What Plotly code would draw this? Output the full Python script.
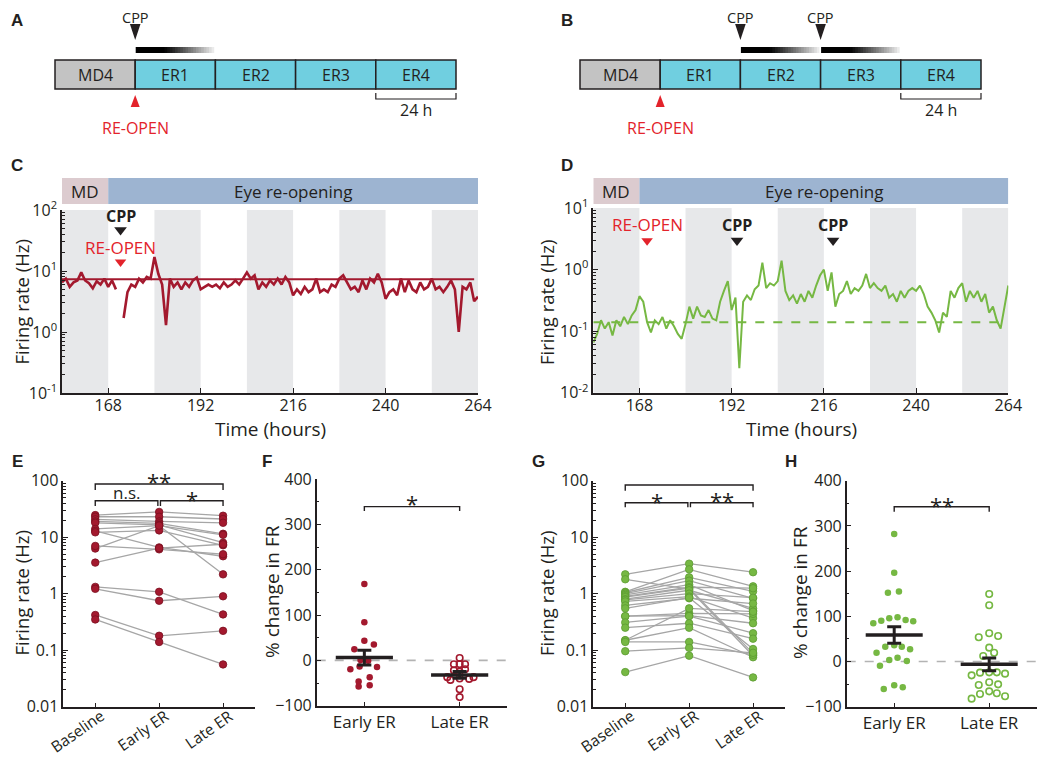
import plotly.graph_objects as go

# The page body has an 8px margin, so the figure is sized to fit inside it and
# all positions below are given in page pixels.
PAGE_W, PAGE_H, BODY = 1050, 766, 8
W, H = PAGE_W - 2 * BODY, PAGE_H - 2 * BODY
def fx(p): return (p - BODY) / W
def fy(p): return 1 - (p - BODY) / H

FONT = "Open Sans, DejaVu Sans, sans-serif"
LABEL_FONT = "Liberation Sans, Arial, sans-serif"
INK = "#231f20"
RED = "#a3192e"
RED_EDGE = "#7a0f1f"
GREEN = "#76b843"
GREEN_EDGE = "#5c9a31"
BRIGHT_RED = "#e3232b"
GREY_LINE = "#a6a6a6"

# ---------------- data ----------------
# schematics (A, B)
SEG_LABELS = ["MD4", "ER1", "ER2", "ER3", "ER4"]
SEG_START = [144, 168, 192, 216, 240]
SEG_FILL = ["#c3c3c3", "#70cfe0", "#70cfe0", "#70cfe0", "#70cfe0"]
SEG_HOURS = 24
REOPEN_T = 168
CPP_A = [168]
CPP_B = [192, 216]
CPP_EFFECT_HOURS = 23.5

# time courses (C, D)
DARK_BANDS = [(156, 168), (180, 192), (204, 216), (228, 240), (252, 264)]
HEADER_LABELS = ["MD", "Eye re-opening"]
HEADER_SPANS = [(156, 168), (168, 264)]
HEADER_FILL = ["#dccbcf", "#9db4d1"]
TIME_TICKS = [168, 192, 216, 240, 264]
T_START = 156

FR_C = [6.5, 7.5, 5.5, 6.5, 7.0, 9.5, 7.0, 6.3, 5.2, 6.8, 6.0, 7.5, 5.5, 7.0, 5.0, None,
        1.7, 4.5, 6.0, 5.5, 7.5, 6.5, 8.0, 7.5, 17, 9.0, 6.0, 1.3, 7.5, 5.5, 6.5, 5.0,
        6.5, 5.5, 7.0, 7.8, 5.0, 5.5, 6.0, 5.5, 6.0, 5.2, 6.5, 5.5, 6.0, 7.0, 6.0, 7.5,
        9.5, 7.5, 8.5, 5.0, 6.5, 5.5, 7.0, 6.0, 7.5, 6.0, 8.0, 6.5, 4.0, 5.0, 4.2, 5.5,
        4.5, 5.0, 7.5, 4.5, 5.0, 4.5, 6.0, 5.5, 7.5, 8.5, 6.5, 5.0, 5.5, 4.5, 7.0, 5.0,
        7.5, 6.5, 9.0, 6.5, 3.5, 4.5, 5.0, 4.0, 7.5, 4.5, 7.0, 5.0, 4.5, 6.5, 5.0, 5.5,
        7.5, 5.0, 5.5, 4.5, 5.5, 7.0, 5.0, 1.0, 5.5, 5.0, 6.5, 3.2, 3.8]
FR_D = [0.065, 0.09, 0.15, 0.11, 0.14, 0.085, 0.15, 0.12, 0.17, 0.13, 0.18, 0.22, 0.37, 0.30,
        0.14, 0.095, 0.15, 0.13, 0.17, 0.11, 0.15, 0.12, 0.09, 0.075, 0.13, 0.25, 0.16, 0.25,
        0.18, 0.17, 0.22, 0.16, 0.15, 0.30, 0.45, 0.65, 0.22, 0.35, 0.025, 0.30, 0.38, 0.32,
        0.48, 0.55, 1.3, 0.5, 0.6, 0.55, 0.65, 1.4, 0.45, 0.32, 0.38, 0.28, 0.4, 0.3, 0.45,
        0.35, 0.55, 0.8, 1.0, 0.45, 0.9, 0.25, 0.4, 0.45, 0.65, 0.4, 0.5, 0.45, 0.55, 0.85,
        0.5, 0.6, 0.5, 0.45, 0.55, 0.35, 0.4, 0.3, 0.45, 0.35, 0.45, 0.5, 0.45, 0.55, 0.4,
        0.25, 0.2, 0.15, 0.095, 0.2, 0.17, 0.45, 0.35, 0.5, 0.6, 0.3, 0.45, 0.35, 0.45, 0.3,
        0.4, 0.2, 0.25, 0.15, 0.11, 0.25, 0.55]
BASE_C = 7.3
BASE_D = 0.139
C_EVENT_T = 171.2
D_REOPEN_T = 170.0
D_CPP_T = [193.4, 218.4]

# paired firing rates (E, G)
CATS3 = ["Baseline", "Early ER", "Late ER"]
E_BASE = [24.6, 23, 20.7, 19, 18, 14, 12.9, 12.2, 6.3, 7.0, 3.55, 1.32, 1.22, 0.42, 0.35]
E_EARLY = [28, 23, 19, 17.5, 16.5, 16, 6.6, 13.2, 16, 6.1, 6.4, 1.08, 0.75, 0.18, 0.14]
E_LATE = [24, 21, 18, 11.5, 8, 11, 4.6, 7.2, 2.2, 5.0, 7.5, 0.43, 0.9, 0.22, 0.056]

G_BASE = [2.2, 1.8, 1.08, 1.05, 1.0, 0.95, 0.9, 0.87, 0.8, 0.78, 0.73, 0.62, 0.55, 0.40,
          0.40, 0.31, 0.25, 0.15, 0.15, 0.14, 0.096, 0.041]
G_EARLY = [3.4, 1.2, 2.7, 1.95, 1.7, 1.45, 1.3, 1.25, 1.15, 1.0, 0.89, 0.83, 0.85, 0.45,
           0.41, 0.40, 0.3, 0.55, 0.25, 0.14, 0.11, 0.08]
G_LATE = [2.4, 0.08, 1.35, 1.1, 0.83, 0.5, 1.25, 0.088, 0.55, 0.85, 0.37, 0.67, 0.105, 0.44,
          0.3, 0.2, 0.16, 0.48, 0.075, 0.083, 0.09, 0.033]

# % change (F, H): values and horizontal scatter offsets
CATS2 = ["Early ER", "Late ER"]
F_EARLY = [168.9, 84.3, 43.7, 34.9, 24.7, 1, -1, -13.7, -19.5, -14.3, -46.8, -37.1, -57.8, -54.8]
F_EARLY_OFF = [0, 0, 0, 0.1, -0.105, -0.04, 0.04, -0.05, -0.147, 0.133, -0.06, 0.056, -0.06, 0.056]
F_LATE = [5.5, -8.4, -8.2, -8.4, -19.5, -22, -25, -37, -43, -40.8, -37, -40, -63.6, -81]
F_LATE_OFF = [0, -0.06, 0, 0.057, 0.057, -0.06, 0, -0.13, -0.097, 0.1, 0.146, 0, 0, 0]
F_MEAN = [6.2, -32]
F_SEM = [16.2, 7.5]

H_EARLY = [282, 196.5, 152, 155, 84.5, 90.3, 95.6, 97.8, 91.8, 88.9, 32.8, 35.7, 32.8, 19.5,
           27, 3.3, 8.4, 1.1, -9.3, -60.8, -52.7, -57.1]
H_EARLY_OFF = [0, 0, -0.066, 0.05, -0.22, -0.136, -0.052, 0.035, 0.12, 0.2, -0.094, 0, 0.08,
               -0.186, 0.167, -0.052, 0.035, 0.133, -0.15, -0.11, 0, 0.09]
H_LATE = [149.3, 124.3, 53.5, 62.4, 56.4, 30.6, 12.2, 19.5, -30.6, -24.7, -24, -24, -26.9,
          -52, -46, -50.5, -82.2, -72, -66, -70.4, -77]
H_LATE_OFF = [0, 0, -0.11, 0, 0.094, 0, -0.063, 0.052, -0.185, -0.097, 0, 0.08, 0.167,
              -0.11, 0, 0.094, -0.185, -0.097, 0, 0.08, 0.167]
H_MEAN = [58.6, -6.3]
H_SEM = [18.4, 14]

# significance: (label, x from, x to, bracket top, bracket tick end, label position)
E_SIG = [("**", 1, 3, 87.3, 68.4, 1.995), ("n.s.", 1, 1.98, 44.2, 35.5, 1.788), ("*", 2.02, 3, 44.2, 35.5, 1.67)]
G_SIG = [("n.s.", 1, 3, 83.8, 66.5, 2.042), ("*", 1, 1.98, 40.8, 33.8, 1.64), ("**", 2.02, 3, 40.8, 33.8, 1.658)]
F_SIG = [("*", 1, 2, 339.6, 330, 347)]
H_SIG = [("**", 1, 2, 342.5, 331.4, 346.2)]

# slanted category label placement (pixel offset of label centre from tick, centre row)
SLANT_DX = [-18, -16, -14]
SLANT_Y = [731, 730, 729]

# ---------------- figure ----------------
fig = go.Figure()
shapes, annotations = [], []
layout = {}


def ann(text, x, y, xref="paper", yref="paper", size=16, color=INK, bold=False,
        angle=0, family=FONT, xanchor="center", yanchor="middle", xshift=0):
    if xref == "paper":
        x = fx(x)
    if yref == "paper":
        y = fy(y)
    return dict(text=f"<b>{text}</b>" if bold else text, x=x, y=y, xref=xref, yref=yref,
                showarrow=False, font=dict(family=family, size=size, color=color),
                textangle=angle, xanchor=xanchor, yanchor=yanchor, xshift=xshift)


def ax_style(**kw):
    d = dict(showline=True, linecolor=INK, linewidth=1.5, ticks="inside", ticklen=5,
             tickwidth=1.2, tickcolor=INK, showgrid=False, zeroline=False, mirror=False,
             automargin=False, tickfont=dict(family=FONT, size=16, color=INK), fixedrange=True)
    d.update(kw)
    return d


def log_minor(lo, hi):
    return [m * 10.0 ** e for e in range(lo, hi) for m in range(2, 10)]


# ---------- schematics A / B ----------
def schematic(xid, yid, px_left, px_right, cpp_times):
    px_per_h = (px_right - px_left) / (SEG_START[-1] + SEG_HOURS - SEG_START[0])
    pad_h = 10 / px_per_h
    layout["xaxis" + xid[1:]] = dict(domain=[fx(px_left - 10), fx(px_right + 10)],
                                     range=[SEG_START[0] - pad_h, SEG_START[-1] + SEG_HOURS + pad_h],
                                     visible=False, anchor=yid, fixedrange=True, automargin=False)
    layout["yaxis" + yid[1:]] = dict(domain=[fy(140), fy(BODY)], range=[140, BODY], visible=False,
                                     anchor=xid, fixedrange=True, automargin=False)
    for lab, s, fill in zip(SEG_LABELS, SEG_START, SEG_FILL):
        shapes.append(dict(type="rect", xref=xid, yref=yid, x0=s, x1=s + SEG_HOURS, y0=60, y1=89,
                           fillcolor=fill, line=dict(color=INK, width=1.5)))
        annotations.append(ann(lab, s + SEG_HOURS / 2, 75, xid, yid, size=16))
    # CPP markers + fading bars
    n = 30
    seg_w = CPP_EFFECT_HOURS / n
    for t in cpp_times:
        hw = 5.3 / px_per_h
        shapes.append(dict(type="path", xref=xid, yref=yid,
                           path=f"M {t-hw},24 L {t+hw},24 L {t},40 Z",
                           fillcolor=INK, line=dict(width=0)))
        annotations.append(ann("CPP", t, 17.5, xid, "paper", size=14.5))
        for i in range(n):
            u = i / (n - 1)
            g = 0 if u < 0.35 else int(235 * ((u - 0.35) / 0.65) ** 1.1)
            x1 = t + 0.15 + (i + 1.4) * seg_w if i < n - 1 else t + 0.15 + (i + 1) * seg_w
            shapes.append(dict(type="rect", xref=xid, yref=yid, x0=t + 0.15 + i * seg_w,
                               x1=x1, y0=47, y1=53, fillcolor=f"rgb({g},{g},{g})",
                               line=dict(width=0)))
    # re-open marker
    hw = 4.5 / px_per_h
    shapes.append(dict(type="path", xref=xid, yref=yid,
                       path=f"M {REOPEN_T-hw},107 L {REOPEN_T+hw},107 L {REOPEN_T},95 Z",
                       fillcolor=BRIGHT_RED, line=dict(width=0)))
    annotations.append(ann("RE-OPEN", REOPEN_T, 128, xid, yid, size=16, color=BRIGHT_RED))
    # 24 h scale bar under last segment
    s = SEG_START[-1]
    fig.add_trace(go.Scatter(x=[s, s, s + SEG_HOURS, s + SEG_HOURS], y=[93, 99, 99, 93],
                             mode="lines", line=dict(color=INK, width=1.2),
                             xaxis=xid, yaxis=yid, hoverinfo="skip"))
    annotations.append(ann("24 h", s + SEG_HOURS / 2, 110, xid, yid, size=16))


schematic("x", "y", 55, 456, CPP_A)
schematic("x2", "y2", 580, 981, CPP_B)


# ---------- time courses C / D ----------
def timecourse(xid, yid, px_l, px_r, py_t, py_b, yrange, ytickvals, yticktext,
               values, base, color, lw, base_dash):
    hours = [T_START + i for i in range(len(values))]
    n = xid[1:]
    layout["xaxis" + n] = ax_style(domain=[fx(px_l), fx(px_r)], range=[T_START, TIME_TICKS[-1]],
                                  anchor=yid, tickmode="array", tickvals=TIME_TICKS,
                                  ticklabelstandoff=-3)
    layout["yaxis" + n] = ax_style(domain=[fy(py_b), fy(py_t)], type="log", range=yrange,
                                  anchor=xid, tickmode="array", tickvals=ytickvals,
                                  ticktext=yticktext,
                                  minor=dict(tickmode="array", tickvals=log_minor(yrange[0], yrange[1]),
                                             ticks="inside", ticklen=3, tickcolor=INK, showgrid=False))
    for a, b in DARK_BANDS:
        shapes.append(dict(type="rect", xref=xid, yref=yid + " domain", x0=a, x1=b, y0=0, y1=1,
                           fillcolor="#e7e8ea", line=dict(width=0), layer="below"))
    for lab, (a, b), fill in zip(HEADER_LABELS, HEADER_SPANS, HEADER_FILL):
        shapes.append(dict(type="rect", xref=xid, yref="paper", x0=a, x1=b, y0=fy(204), y1=fy(178),
                           fillcolor=fill, line=dict(width=0)))
        annotations.append(ann(lab, (a + b) / 2, 191, xid, "paper", size=17))
    fig.add_trace(go.Scatter(x=[hours[0], hours[-2]], y=[base, base], mode="lines",
                             line=dict(color=color, width=2, dash=base_dash),
                             xaxis=xid, yaxis=yid, hoverinfo="skip"))
    fig.add_trace(go.Scatter(x=hours, y=values, mode="lines", connectgaps=False,
                             line=dict(color=color, width=lw),
                             xaxis=xid, yaxis=yid, hoverinfo="skip"))


timecourse("x3", "y3", 62, 478, 210, 393, [-1, 2], [0.1, 1, 10, 100],
           ["10<sup>-1</sup>", "10<sup>0</sup>", "10<sup>1</sup>", "10<sup>2</sup>"],
           FR_C, BASE_C, RED, 2.6, "solid")
timecourse("x4", "y4", 593.3, 1008.3, 208, 392.7, [-2, 1], [0.01, 0.1, 1, 10],
           ["10<sup>-2</sup>", "10<sup>-1</sup>", "10<sup>0</sup>", "10<sup>1</sup>"],
           FR_D, BASE_D, GREEN, 2, "dash")

# C event markers
fig.add_trace(go.Scatter(x=[C_EVENT_T], y=[47], mode="markers", xaxis="x3", yaxis="y3",
                         marker=dict(symbol="triangle-down", size=11, color=INK), hoverinfo="skip"))
fig.add_trace(go.Scatter(x=[C_EVENT_T], y=[14], mode="markers", xaxis="x3", yaxis="y3",
                         marker=dict(symbol="triangle-down", size=10, color=BRIGHT_RED), hoverinfo="skip"))
annotations.append(ann("CPP", C_EVENT_T, 1.907, "x3", "y3", size=16, bold=True))
annotations.append(ann("RE-OPEN", C_EVENT_T, 1.389, "x3", "y3", size=17, color=BRIGHT_RED))

# D event markers
fig.add_trace(go.Scatter(x=[D_REOPEN_T], y=[2.94], mode="markers", xaxis="x4", yaxis="y4",
                         marker=dict(symbol="triangle-down", size=10, color=BRIGHT_RED), hoverinfo="skip"))
fig.add_trace(go.Scatter(x=D_CPP_T, y=[2.97] * len(D_CPP_T), mode="markers", xaxis="x4", yaxis="y4",
                         marker=dict(symbol="triangle-down", size=11, color=INK), hoverinfo="skip"))
annotations.append(ann("RE-OPEN", D_REOPEN_T, 0.724, "x4", "y4", size=17, color=BRIGHT_RED))
for t in D_CPP_T:
    annotations.append(ann("CPP", t, 0.724, "x4", "y4", size=16, bold=True))

annotations.append(ann("Time (hours)", 270, 429, size=19))
annotations.append(ann("Time (hours)", 801, 429, size=19))
annotations.append(ann("Firing rate (Hz)", 20.5, 302, size=18.5, angle=-90))
annotations.append(ann("Firing rate (Hz)", 546, 302, size=18.5, angle=-90))


# ---------- paired plots E / G ----------
def paired(xid, yid, px_l, px_r, base, early, late, color, edge, sigs):
    n = xid[1:]
    layout["xaxis" + n] = ax_style(domain=[fx(px_l), fx(px_r)], range=[0.5, 3.5], anchor=yid,
                                  tickmode="array", tickvals=[1, 2, 3], ticklen=4,
                                  showticklabels=False)
    layout["yaxis" + n] = ax_style(domain=[fy(706.7), fy(480.7)], type="log", range=[-2, 2],
                                  anchor=xid, tickmode="array",
                                  tickvals=[0.01, 0.1, 1, 10, 100],
                                  ticktext=["0.01", "0.1", "1", "10", "100"],
                                  minor=dict(tickmode="array", tickvals=log_minor(-2, 2),
                                             ticks="inside", ticklen=3, tickcolor=INK, showgrid=False))
    # slanted category labels ending under each tick
    for c, lab, dx, yc in zip([1, 2, 3], CATS3, SLANT_DX, SLANT_Y):
        annotations.append(ann(lab, c, yc, xid, "paper", size=15.5, angle=-35, xshift=dx))
    lx, ly = [], []
    for b, e, l in zip(base, early, late):
        lx += [1, 2, 3, None]
        ly += [b, e, l, None]
    fig.add_trace(go.Scatter(x=lx, y=ly, mode="lines", line=dict(color=GREY_LINE, width=1.3),
                             xaxis=xid, yaxis=yid, hoverinfo="skip", connectgaps=False))
    k = len(base)
    fig.add_trace(go.Scatter(x=[1] * k + [2] * k + [3] * k, y=base + early + late, mode="markers",
                             marker=dict(size=7.5, color=color, line=dict(color=edge, width=0.8)),
                             xaxis=xid, yaxis=yid, hoverinfo="skip"))
    for txt, x0, x1, ytop, ybot, ytxt in sigs:
        fig.add_trace(go.Scatter(x=[x0, x0, x1, x1], y=[ybot, ytop, ytop, ybot], mode="lines",
                                 line=dict(color=INK, width=1.4), xaxis=xid, yaxis=yid, hoverinfo="skip"))
        annotations.append(ann(txt, (x0 + x1) / 2, ytxt, xid, yid,
                               size=22 if "*" in txt else 17))


paired("x5", "y5", 63.3, 255, E_BASE, E_EARLY, E_LATE, RED, RED_EDGE, E_SIG)
paired("x7", "y7", 593.3, 785, G_BASE, G_EARLY, G_LATE, GREEN, GREEN_EDGE, G_SIG)
annotations.append(ann("Firing rate (Hz)", 20.5, 593, size=18.5, angle=-90))
annotations.append(ann("Firing rate (Hz)", 546, 593, size=18.5, angle=-90))


# ---------- % change F / H ----------
def pct(xid, yid, px_l, px_r, py_t, py_b, early, early_off, late, late_off, means, sems,
        color, sigs):
    n = xid[1:]
    layout["xaxis" + n] = ax_style(domain=[fx(px_l), fx(px_r)], range=[0.5, 2.5], anchor=yid,
                                  tickmode="array", tickvals=[1, 2], ticktext=CATS2, ticklen=4,
                                  tickfont=dict(family=FONT, size=17, color=INK))
    layout["yaxis" + n] = ax_style(domain=[fy(py_b), fy(py_t)], range=[-100, 400], anchor=xid,
                                  tickmode="array", tickvals=[-100, 0, 100, 200, 300, 400],
                                  minor=dict(tickmode="linear", tick0=-100, dtick=50, ticks="inside",
                                             ticklen=3, tickcolor=INK, showgrid=False))
    fig.add_trace(go.Scatter(x=[0.5, 2.5], y=[0, 0], mode="lines",
                             line=dict(color="#b3b3b3", width=1.6, dash="dash"),
                             xaxis=xid, yaxis=yid, hoverinfo="skip"))
    fig.add_trace(go.Scatter(x=[1 + o for o in early_off], y=early, mode="markers",
                             marker=dict(size=6.5, color=color), xaxis=xid, yaxis=yid, hoverinfo="skip"))
    fig.add_trace(go.Scatter(x=[2 + o for o in late_off], y=late, mode="markers",
                             marker=dict(size=6.5, symbol="circle-open", color=color,
                                         line=dict(width=1.6, color=color)),
                             xaxis=xid, yaxis=yid, hoverinfo="skip"))
    for c, m, s in zip([1, 2], means, sems):
        fig.add_trace(go.Scatter(x=[c - 0.3, c + 0.3], y=[m, m], mode="lines",
                                 line=dict(color=INK, width=3.5), xaxis=xid, yaxis=yid, hoverinfo="skip"))
        fig.add_trace(go.Scatter(x=[c], y=[m], mode="markers", marker=dict(size=1, color=INK),
                                 error_y=dict(type="data", array=[s], symmetric=True, color=INK,
                                              thickness=3, width=7),
                                 xaxis=xid, yaxis=yid, hoverinfo="skip"))
    for txt, x0, x1, ytop, ybot, ytxt in sigs:
        fig.add_trace(go.Scatter(x=[x0, x0, x1, x1], y=[ybot, ytop, ytop, ybot], mode="lines",
                                 line=dict(color=INK, width=1.4), xaxis=xid, yaxis=yid, hoverinfo="skip"))
        annotations.append(ann(txt, (x0 + x1) / 2, ytxt, xid, yid, size=22))


pct("x6", "y6", 316.7, 507.3, 479.3, 705.7, F_EARLY, F_EARLY_OFF, F_LATE, F_LATE_OFF,
    F_MEAN, F_SEM, RED, F_SIG)
pct("x8", "y8", 846.7, 1036.7, 480.7, 706.7, H_EARLY, H_EARLY_OFF, H_LATE, H_LATE_OFF,
    H_MEAN, H_SEM, GREEN, H_SIG)
annotations.append(ann("% change in FR", 272, 592, size=19, angle=-90))
annotations.append(ann("% change in FR", 800, 593, size=19, angle=-90))

# panel letters
for letter, (x, y) in zip("ABCDEFGH", [(17, 20), (567, 20), (17, 165), (567, 165),
                                       (17, 461), (267, 461), (538, 461), (791, 461)]):
    annotations.append(ann(letter, x, y, size=17, bold=True, family=LABEL_FONT))

fig.update_layout(template="none", width=W, height=H, margin=dict(l=0, r=0, t=0, b=0, pad=0),
                  autosize=False, showlegend=False, paper_bgcolor="white",
                  plot_bgcolor="rgba(0,0,0,0)", font=dict(family=FONT, color=INK),
                  shapes=shapes, annotations=annotations, **layout)
fig.write_html("out.html")
